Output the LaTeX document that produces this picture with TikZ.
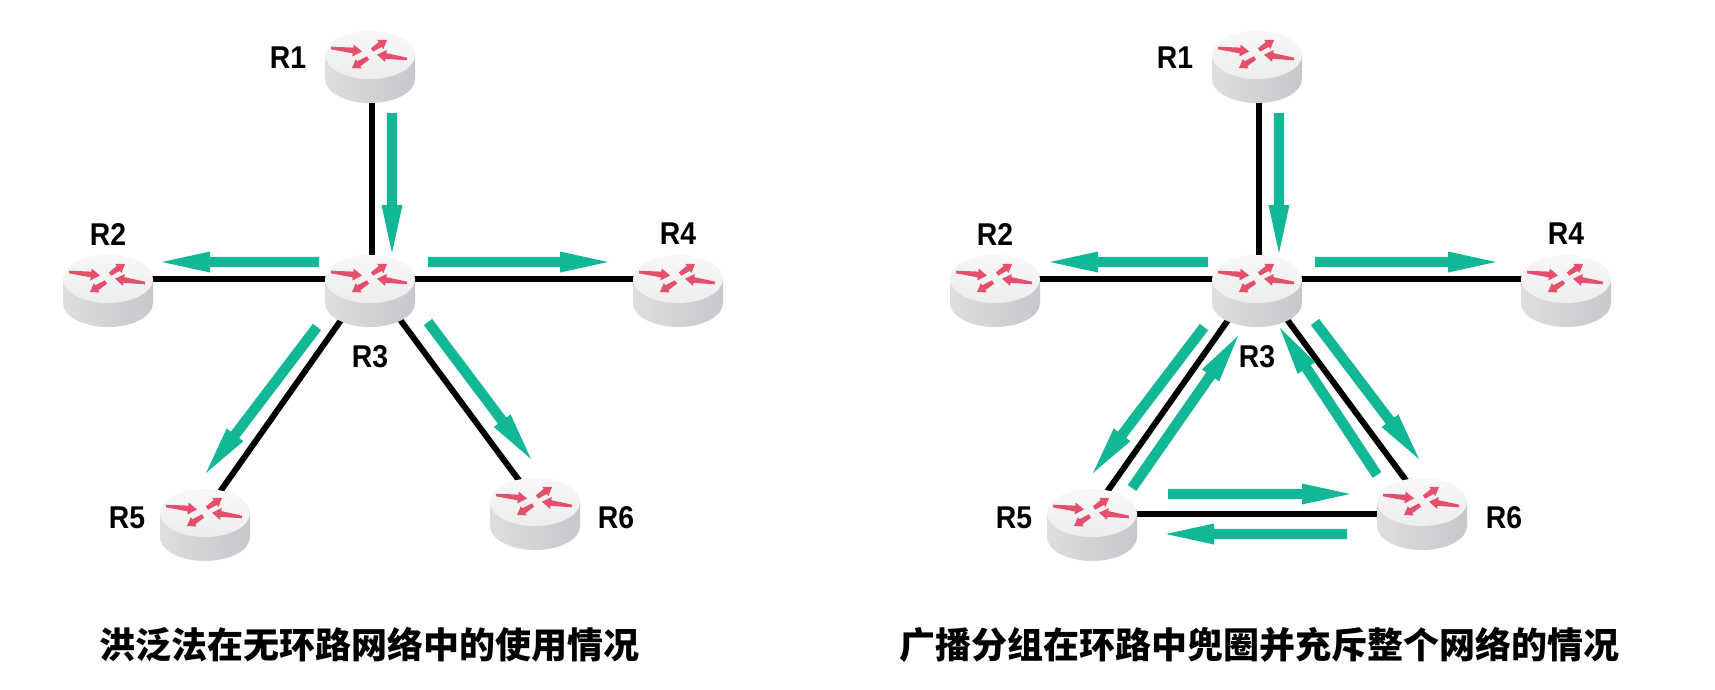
\documentclass[tikz,border=0pt]{standalone}
\usepackage{fontspec}
\setmainfont{Liberation Sans}[FakeStretch=0.9]
\newfontfamily\cjk{Noto Sans CJK SC}
\usetikzlibrary{backgrounds,calc,shapes.geometric}
\definecolor{flowgreen}{HTML}{12B896}
\definecolor{routerred}{HTML}{E4506C}
% A straight block arrow from #1 to #2; #3 half shaft at tail, #4 half shaft at head,
% #5 half head width, #6 head length
\newcommand{\blockarrow}[6]{%
  let \p1=(#1), \p2=(#2) in
  coordinate (bh) at ($(\p2)!#6!(\p1)$)
  ($(\p1)!#3!90:(\p2)$) -- ($(bh)!#4!-90:(\p1)$) -- ($(bh)!#5!-90:(\p1)$) -- (\p2)
  -- ($(bh)!#5!90:(\p1)$) -- ($(bh)!#4!90:(\p1)$) -- ($(\p1)!#3!-90:(\p2)$) -- cycle%
}
\tikzset{
  routerbox/.style={ellipse,minimum width=90pt,minimum height=48pt,inner sep=0pt,draw=none},
  link/.style={line width=6pt,black},
  rlabel/.style={inner sep=0pt,font=\bfseries\fontsize{31.5}{34}\selectfont},
  caption/.style={inner sep=0pt,font=\cjk\bfseries\fontsize{36}{40}\selectfont},
  router/.pic={
    \shade[left color=black!13,middle color=black!15,right color=blue!10!black!22]
      (-45,0) -- (-45,24) arc[start angle=180,end angle=0,x radius=45,y radius=24] -- (45,0) -- cycle;
    \shade[top color=black!3,bottom color=black!7]
      (0,0) ellipse[x radius=45,y radius=24];
    \fill[routerred] \blockarrow{-39,-7}{-8,-3.5}{1.3pt}{2.9pt}{6pt}{9pt};
    \fill[routerred] \blockarrow{2,-5}{17,-15}{2pt}{2.9pt}{5.5pt}{8pt};
    \fill[routerred] \blockarrow{37,4}{7,-0.3}{1.3pt}{2.9pt}{6pt}{9pt};
    \fill[routerred] \blockarrow{-2,3}{-18,13}{2pt}{2.9pt}{5.5pt}{8pt};
  }
}
% A router: an invisible named node with the drawn router at its centre
\newcommand{\routerat}[3]{%
  \node[routerbox] (#1) at (#2,#3) {};
  \pic at (#1) {router};
}
% A green flow arrow between two named free ends
\newcommand{\flowarrow}[3]{%
  \coordinate (#1s) at (#2);
  \coordinate (#1e) at (#3);
  \fill[flowgreen] \blockarrow{#1s}{#1e}{5.2pt}{5.2pt}{10.5pt}{48pt};
}
\begin{document}
\begin{tikzpicture}[x=1pt,y=-1pt]
\useasboundingbox (0,0) rectangle (1715,689);
\begin{scope}[on background layer]
  \fill[white] (0,0) rectangle (1715,689);
\end{scope}

% Network without a loop
\routerat{ar1}{370}{55}
\routerat{ar2}{108}{279}
\routerat{ar3}{370}{279}
\routerat{ar4}{678}{279}
\routerat{ar5}{205}{513}
\routerat{ar6}{535}{502}
\begin{scope}[on background layer]
  \draw[link] ([xshift=2pt]ar1.center) -- ([xshift=2pt]ar3.center);
  \draw[link] (ar2.center) -- (ar4.center);
  \draw[link] (ar3.center) -- (ar5.center);
  \draw[link] (ar3.center) -- (ar6.center);
\end{scope}
\flowarrow{af1}{392,113}{392,253}
\flowarrow{af2}{319,262}{162,262}
\flowarrow{af3}{428,262}{608,262}
\flowarrow{af4}{317,327}{206,473}
\flowarrow{af5}{428,322}{531,459}
\node[rlabel] (al1) at (288,58) {R1};
\node[rlabel] (al2) at (108,234) {R2};
\node[rlabel] (al3) at (370,357) {R3};
\node[rlabel] (al4) at (678,234) {R4};
\node[rlabel] (al5) at (127,518) {R5};
\node[rlabel] (al6) at (616,518) {R6};
\node[caption] (acap) at (369,645) {洪泛法在无环路网络中的使用情况};

% Network with a loop
\routerat{br1}{1257}{55}
\routerat{br2}{995}{279}
\routerat{br3}{1257}{279}
\routerat{br4}{1566}{279}
\routerat{br5}{1092}{513}
\routerat{br6}{1422}{502}
\begin{scope}[on background layer]
  \draw[link] ([xshift=2pt]br1.center) -- ([xshift=2pt]br3.center);
  \draw[link] (br2.center) -- (br4.center);
  \draw[link] (br3.center) -- (br5.center);
  \draw[link] (br3.center) -- (br6.center);
  \draw[link] ([yshift=-1pt]br5.center) -- ([yshift=-1pt]br5.center -| br6.center);
\end{scope}
\flowarrow{bf1}{1279,113}{1279,253}
\flowarrow{bf2}{1208,262}{1050,262}
\flowarrow{bf3}{1315,262}{1496,262}
\flowarrow{bf4}{1204,327}{1093,473}
\flowarrow{bf5}{1132,488}{1238,336}
\flowarrow{bf6}{1315,322}{1419,459}
\flowarrow{bf7}{1377,475}{1280,328}
\flowarrow{bf8}{1168,494}{1350,494}
\flowarrow{bf9}{1347,534}{1166,534}
\node[rlabel] (bl1) at (1175,58) {R1};
\node[rlabel] (bl2) at (995,234) {R2};
\node[rlabel] (bl3) at (1257,357) {R3};
\node[rlabel] (bl4) at (1566,234) {R4};
\node[rlabel] (bl5) at (1014,518) {R5};
\node[rlabel] (bl6) at (1504,518) {R6};
\node[caption] (bcap) at (1259,645) {广播分组在环路中兜圈并充斥整个网络的情况};
\end{tikzpicture}
\end{document}
